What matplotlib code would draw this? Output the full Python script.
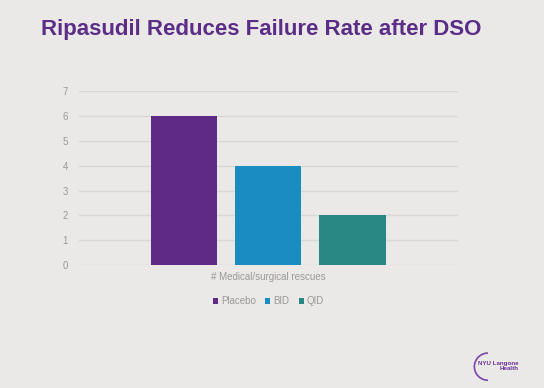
import matplotlib.pyplot as plt
from matplotlib.patches import Arc

groups = ["Placebo", "BID", "QID"]
rescues = [6, 4, 2]
colors = ["#5F2A86", "#1A8CC2", "#2A8884"]
category = "# Medical/surgical rescues"

bg = "#EAE9E7"
plt.rcParams['font.family'] = ['Liberation Sans', 'DejaVu Sans']

fig = plt.figure(figsize=(5.44, 3.88), dpi=100, facecolor=bg)
ax = fig.add_axes([0.145, 0.317, 0.697, 0.448], facecolor=bg)

pos = [-1, 0, 1]
for p, v, c, g in zip(pos, rescues, colors, groups):
    ax.bar(p, v, 0.786, color=c, label=g, zorder=3)

ax.set_ylim(0, 7)
ax.set_xlim(-2.256, 2.256)
ax.set_yticks(range(8))
ax.grid(axis="y", color="#D9D8D8", linewidth=1, zorder=0)
ax.set_xticks([])
for s in ax.spines.values():
    s.set_visible(False)
ax.tick_params(axis="y", length=0, labelsize=7, labelcolor="#999999", pad=8)
ax.set_xlabel(category, fontsize=7, color="#999999", labelpad=5)

ax.legend(loc="upper center", bbox_to_anchor=(0.5, -0.13), ncol=3, frameon=False,
          fontsize=7, labelcolor="#999999", handlelength=0.5, handleheight=0.5,
          handletextpad=0.3, columnspacing=1.0)

fig.text(0.481, 0.925, "Ripasudil Reduces Failure Rate after DSO", ha="center", va="center",
         fontsize=16, fontweight="bold", color="#5B2D87")

# logo
fig.text(0.878, 0.057, "NYU Langone\nHealth", ha="left", va="center", fontsize=4.5,
         fontweight="bold", color="#6A2F9A", linespacing=1.0, multialignment="right")
fig.add_artist(Arc((0.897, 0.055), 0.05, 0.07, theta1=90, theta2=270,
                   transform=fig.transFigure, color="#7B45A8", lw=1.2))

fig.savefig("out.png", dpi=100, facecolor=bg)
